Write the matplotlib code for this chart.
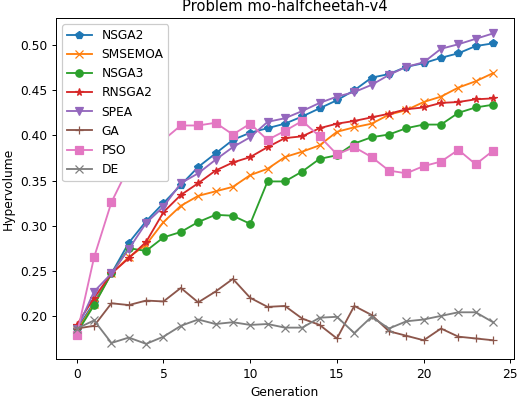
import numpy as np
import matplotlib
matplotlib.use('Agg')
import matplotlib.pyplot as plt

## Generations
gen = list(range(25))

## Hypervolume values
nsga2 = [0.185, 0.215, 0.247, 0.281, 0.305, 0.325, 0.345, 0.365, 0.380, 0.395,
         0.403, 0.408, 0.413, 0.421, 0.430, 0.439, 0.450, 0.464, 0.468, 0.476,
         0.480, 0.486, 0.491, 0.499, 0.502]
smsemoa = [0.183, 0.213, 0.247, 0.265, 0.279, 0.304, 0.322, 0.333, 0.338, 0.343,
           0.356, 0.363, 0.376, 0.382, 0.389, 0.404, 0.409, 0.413, 0.423, 0.428,
           0.437, 0.443, 0.453, 0.460, 0.469]
nsga3 = [0.181, 0.212, 0.247, 0.275, 0.272, 0.287, 0.293, 0.304, 0.312, 0.311,
         0.302, 0.349, 0.349, 0.360, 0.374, 0.378, 0.391, 0.398, 0.401, 0.408,
         0.412, 0.412, 0.425, 0.431, 0.434]
rnsga2 = [0.190, 0.220, 0.247, 0.264, 0.282, 0.315, 0.334, 0.347, 0.361, 0.370,
          0.376, 0.387, 0.397, 0.399, 0.408, 0.413, 0.416, 0.420, 0.424, 0.429,
          0.431, 0.436, 0.437, 0.440, 0.441]
spea = [0.185, 0.227, 0.247, 0.274, 0.303, 0.321, 0.347, 0.358, 0.373, 0.387,
        0.398, 0.415, 0.419, 0.427, 0.436, 0.443, 0.448, 0.456, 0.467, 0.476,
        0.481, 0.496, 0.501, 0.507, 0.513]
ga = [0.186, 0.189, 0.214, 0.212, 0.217, 0.216, 0.231, 0.215, 0.227, 0.241,
      0.220, 0.210, 0.211, 0.197, 0.190, 0.175, 0.211, 0.201, 0.183, 0.178,
      0.173, 0.186, 0.177, 0.175, 0.173]
pso = [0.179, 0.265, 0.326, 0.365, 0.380, 0.395, 0.411, 0.411, 0.414, 0.401,
       0.413, 0.395, 0.405, 0.416, 0.399, 0.379, 0.387, 0.376, 0.361, 0.358,
       0.366, 0.371, 0.384, 0.368, 0.383]
de = [0.186, 0.195, 0.170, 0.176, 0.169, 0.177, 0.189, 0.196, 0.191, 0.193,
      0.190, 0.191, 0.187, 0.187, 0.198, 0.199, 0.181, 0.199, 0.186, 0.194,
      0.196, 0.200, 0.204, 0.204, 0.193]

series = [('NSGA2', nsga2, 'p'), ('SMSEMOA', smsemoa, 'x'), ('NSGA3', nsga3, 'o'),
          ('RNSGA2', rnsga2, '*'), ('SPEA', spea, 'v'), ('GA', ga, '+'),
          ('PSO', pso, 's'), ('DE', de, 'x')]

## Making plot (original looks like a default figure scaled down, so use lower dpi)
dpi = 88.7
fig, ax = plt.subplots(figsize=(518 / dpi, 398 / dpi), dpi=dpi)
fig.subplots_adjust(left=0.108, right=0.992, top=0.955, bottom=0.097)
for name, vals, mk in series:
    ax.plot(gen, vals, marker=mk, label=name)

ax.set_title('Problem mo-halfcheetah-v4')
ax.set_xlabel('Generation')
ax.set_ylabel('Hypervolume')
ax.legend(loc='upper left', framealpha=1)
fig.savefig('out.png', dpi=dpi)
